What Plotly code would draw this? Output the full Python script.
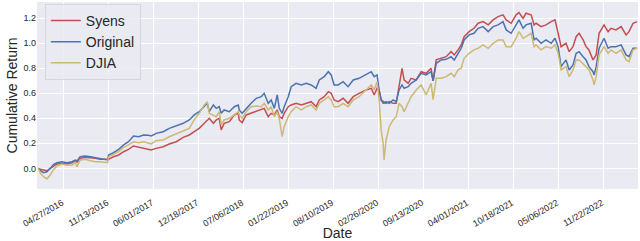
import pandas as pd
import plotly.graph_objects as go

# Calendar-day offsets from the first trading day (2016-01-04)
start_date = "2016-01-04"
day_offsets = [0, 9, 23, 38, 53, 68, 83, 105, 127, 150, 164, 172, 186, 209, 231, 253, 275, 298, 308, 312,
               334, 357, 379, 401, 423, 446, 468, 490, 502, 524, 555, 582, 613, 644, 671, 693, 715, 738, 751, 760,
               778, 791, 804, 813, 826, 849, 871, 889, 893, 906, 924, 946, 969, 991, 1004, 1022, 1035, 1049, 1062, 1071,
               1084, 1093, 1111, 1124, 1146, 1169, 1191, 1213, 1235, 1249, 1271, 1289, 1302, 1315, 1333, 1355, 1377, 1400, 1426, 1457,
               1480, 1493, 1506, 1515, 1524, 1533, 1537, 1546, 1560, 1577, 1591, 1604, 1617, 1626, 1644, 1657, 1680, 1702, 1724, 1746,
               1755, 1769, 1791, 1813, 1835, 1849, 1866, 1880, 1893, 1915, 1937, 1955, 1977, 2000, 2022, 2044, 2066, 2080, 2102, 2124,
               2137, 2155, 2168, 2191, 2204, 2213, 2235, 2257, 2280, 2297, 2311, 2324, 2346, 2360, 2377, 2391, 2404, 2422, 2435, 2448,
               2466, 2471, 2480, 2493, 2515, 2533, 2546, 2568, 2591, 2613, 2626, 2644, 2662]

syens = [0.0, -0.008, -0.013, -0.019, 0.0, 0.019, 0.035, 0.04, 0.035, 0.045, 0.061, 0.05, 0.08, 0.088, 0.085, 0.08, 0.072, 0.072, 0.067, 0.072,
         0.093, 0.107, 0.133, 0.152, 0.179, 0.168, 0.16, 0.152, 0.147, 0.16, 0.173, 0.195, 0.213, 0.248, 0.267, 0.293, 0.32, 0.36, 0.38, 0.4,
         0.36, 0.387, 0.4, 0.307, 0.36, 0.373, 0.427, 0.44, 0.387, 0.365, 0.427, 0.44, 0.453, 0.467, 0.48, 0.413, 0.44, 0.427, 0.467, 0.413,
         0.4, 0.44, 0.493, 0.507, 0.52, 0.507, 0.52, 0.533, 0.493, 0.547, 0.573, 0.613, 0.6, 0.547, 0.533, 0.56, 0.52, 0.573, 0.6, 0.627,
         0.64, 0.587, 0.64, 0.627, 0.547, 0.533, 0.533, 0.52, 0.533, 0.52, 0.52, 0.653, 0.8, 0.707, 0.68, 0.72, 0.707, 0.773, 0.76, 0.8,
         0.7, 0.867, 0.88, 0.893, 0.933, 0.907, 0.947, 0.987, 1.053, 1.093, 1.12, 1.16, 1.173, 1.147, 1.187, 1.213, 1.227, 1.187, 1.16, 1.227,
         1.245, 1.2, 1.24, 1.227, 1.147, 1.16, 1.133, 1.147, 1.173, 1.187, 1.08, 0.973, 1.0, 0.933, 0.973, 1.053, 1.08, 1.027, 0.973, 0.947,
         0.867, 0.88, 0.907, 1.08, 1.147, 1.093, 1.12, 1.107, 1.133, 1.067, 1.093, 1.16, 1.173]

original = [0.0, -0.019, -0.035, -0.027, 0.0, 0.032, 0.045, 0.053, 0.045, 0.053, 0.067, 0.06, 0.093, 0.099, 0.093, 0.085, 0.08, 0.072, 0.067, 0.107,
            0.125, 0.152, 0.187, 0.213, 0.259, 0.253, 0.267, 0.265, 0.259, 0.28, 0.293, 0.32, 0.339, 0.36, 0.387, 0.427, 0.453, 0.493, 0.52, 0.453,
            0.507, 0.48, 0.493, 0.44, 0.467, 0.453, 0.493, 0.507, 0.467, 0.44, 0.48, 0.52, 0.56, 0.573, 0.6, 0.52, 0.547, 0.48, 0.587, 0.48,
            0.44, 0.493, 0.573, 0.653, 0.68, 0.667, 0.68, 0.667, 0.64, 0.707, 0.733, 0.773, 0.747, 0.667, 0.667, 0.693, 0.653, 0.707, 0.72, 0.747,
            0.773, 0.733, 0.747, 0.627, 0.547, 0.52, 0.52, 0.533, 0.52, 0.547, 0.533, 0.627, 0.667, 0.64, 0.653, 0.68, 0.707, 0.76, 0.747, 0.773,
            0.7, 0.84, 0.867, 0.872, 0.893, 0.867, 0.92, 0.96, 1.027, 1.067, 1.08, 1.12, 1.133, 1.093, 1.133, 1.147, 1.173, 1.107, 1.08, 1.147,
            1.187, 1.12, 1.147, 1.16, 1.027, 1.04, 1.0, 1.027, 1.0, 1.04, 0.973, 0.813, 0.867, 0.787, 0.827, 0.92, 0.933, 0.893, 0.867, 0.813,
            0.773, 0.747, 0.813, 0.96, 1.04, 0.96, 0.973, 0.973, 0.987, 0.907, 0.893, 0.96, 0.96]

djia = [0.0, -0.04, -0.067, -0.085, -0.053, -0.008, 0.019, 0.035, 0.024, 0.027, 0.045, 0.013, 0.067, 0.072, 0.061, 0.053, 0.053, 0.05, 0.045, 0.093,
        0.115, 0.133, 0.168, 0.187, 0.213, 0.205, 0.213, 0.205, 0.195, 0.221, 0.227, 0.253, 0.275, 0.301, 0.32, 0.387, 0.44, 0.507, 0.533, 0.44,
        0.427, 0.413, 0.453, 0.347, 0.387, 0.4, 0.427, 0.453, 0.427, 0.4, 0.453, 0.493, 0.499, 0.493, 0.52, 0.467, 0.493, 0.413, 0.453, 0.4,
        0.253, 0.333, 0.413, 0.453, 0.493, 0.467, 0.493, 0.507, 0.467, 0.52, 0.547, 0.573, 0.547, 0.493, 0.493, 0.52, 0.493, 0.547, 0.573, 0.627,
        0.667, 0.627, 0.693, 0.547, 0.307, 0.2, 0.067, 0.227, 0.333, 0.387, 0.413, 0.52, 0.493, 0.453, 0.52, 0.573, 0.627, 0.667, 0.587, 0.68,
        0.55, 0.72, 0.72, 0.733, 0.76, 0.733, 0.787, 0.8, 0.88, 0.92, 0.947, 0.96, 0.987, 0.96, 1.0, 1.027, 1.027, 0.973, 0.973, 1.04,
        1.093, 1.04, 1.053, 1.08, 0.973, 0.987, 0.947, 0.973, 0.96, 0.987, 0.92, 0.787, 0.813, 0.733, 0.787, 0.867, 0.867, 0.84, 0.813, 0.787,
        0.707, 0.667, 0.733, 0.907, 0.973, 0.92, 0.947, 0.92, 0.947, 0.867, 0.853, 0.947, 0.96]

tick_labels = ["04/27/2016", "11/13/2016", "06/01/2017", "12/18/2017", "07/06/2018", "01/22/2019",
               "08/10/2019", "02/26/2020", "09/13/2020", "04/01/2021", "10/18/2021", "05/06/2022", "11/22/2022"]
y_ticks = [0.0, 0.2, 0.4, 0.6, 0.8, 1.0, 1.2]

dates = pd.Timestamp(start_date) + pd.to_timedelta(day_offsets, unit="D")
tick_vals = pd.to_datetime(tick_labels, format="%m/%d/%Y")

series = [("Syens", syens, "#C44E52"), ("Original", original, "#4C72B0"), ("DJIA", djia, "#CCB974")]

fig = go.Figure()
for name, vals, color in series:
    fig.add_trace(go.Scatter(x=dates, y=vals, name=name, mode="lines",
                             line=dict(color=color, width=1.5)))

font_family = "Liberation Sans, Arial, sans-serif"
fig.update_layout(
    width=640, height=241,
    margin=dict(l=37, r=2, t=2, b=52),
    paper_bgcolor="white",
    plot_bgcolor="#EAEAF2",
    font=dict(family=font_family, color="#262626"),
    showlegend=True,
    legend=dict(x=0.013, y=0.99, xanchor="left", yanchor="top",
                bgcolor="rgba(234,234,242,0.85)", bordercolor="#D6D6DE", borderwidth=1,
                font=dict(size=14, color="#262626")),
    xaxis=dict(
        range=["2015-12-29", "2023-04-23"],
        tickmode="array", tickvals=tick_vals, ticktext=tick_labels,
        tickangle=-30, tickfont=dict(size=9),
        ticklabelstandoff=6, ticklabelshift=-2,
        showgrid=True, gridcolor="white", gridwidth=1.2,
        zeroline=False, showline=False, ticks="",
        title=dict(text="Date", font=dict(size=14), standoff=2),
        automargin=False,
    ),
    yaxis=dict(
        range=[-0.165, 1.33],
        tickmode="array", tickvals=y_ticks, ticktext=[f"{v:.1f}" for v in y_ticks],
        tickfont=dict(size=9),
        showgrid=True, gridcolor="white", gridwidth=1.2,
        zeroline=False, showline=False, ticks="",
        title=dict(text="Cumulative Return", font=dict(size=14), standoff=2),
        automargin=False,
    ),
)

fig.write_html("out.html", config={"displayModeBar": False},
               post_script="document.body.style.margin='0';")
